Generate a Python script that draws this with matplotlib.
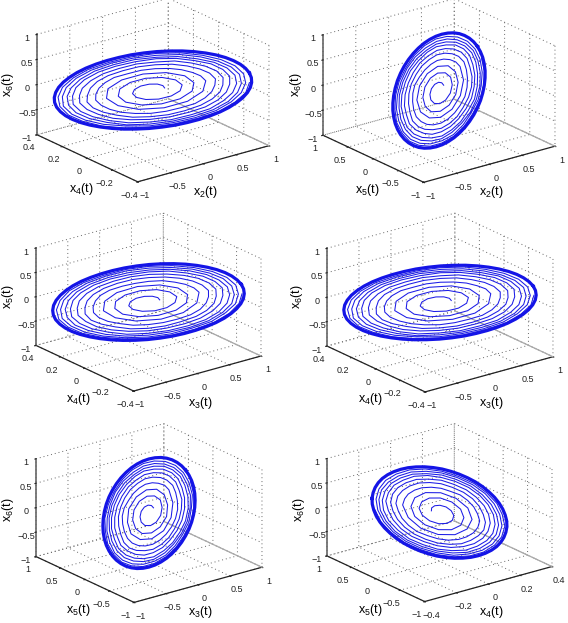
import numpy as np
import matplotlib
matplotlib.use('Agg')
import matplotlib.pyplot as plt

plt.rcParams['font.family'] = ['Liberation Sans', 'DejaVu Sans']
plt.rcParams['mathtext.default'] = 'regular'
plt.rcParams['grid.color'] = '#666666'
plt.rcParams['grid.linestyle'] = (0, (1, 3))
plt.rcParams['grid.linewidth'] = 0.7

# trayectoria: espiral vuelta por vuelta
x2 = [.108,.105,.068,0,-.081,-.152,-.189,-.176,-.108,0,.122,.222,
      .27,.24,.14,0,-.15,-.27,-.32,-.29,-.17,0,.18,.32,
      .38,.34,.20,0,-.21,-.37,-.43,-.37,-.22,0,.23,.41,
      .49,.47,.42,.34,.25,.13,0,-.13,-.26,-.36,-.44,-.50,-.53,-.51,-.46,-.38,-.27,-.14,0,.14,.28,.39,.48,.54,
      .58,.56,.50,.41,.29,.15,0,-.15,-.30,-.42,-.51,-.57,-.61,-.59,-.53,-.43,-.31,-.16,0,.16,.32,.45,.55,.61,
      .65,.63,.56,.46,.33,.17,0,-.17,-.33,-.47,-.58,-.64,-.68,-.65,-.58,-.48,-.34,-.18,0,.18,.35,.49,.60,.67,
      .71,.69,.62,.50,.36,.19,0,-.19,-.36,-.52,-.63,-.70,-.74,-.71,-.64,-.52,-.37,-.19,0,.19,.38,.53,.65,.73,
      .76,.73,.65,.53,.38,.20,0,-.20,-.39,-.55,-.67,-.75,-.78,-.76,-.68,-.55,-.40,-.21,0,.21,.40,.57,.69,.77,
      .80,.77,.69,.57,.41,.21,0,-.21,-.41,-.58,-.71,-.79,-.83,-.80,-.72,-.59,-.41,-.21,0,.21,.42,.59,.72,.81,
      .84,.81,.72,.59,.42,.22,0,-.22,-.43,-.60,-.74,-.83,-.86,-.83,-.75,-.61,-.43,-.22,0,.22,.44,.62,.76,.84]
x3 = [.107,.101,.06,-.008,-.088,-.154,-.187,-.169,-.096,.013,.132,.225,
      .27,.23,.13,-.02,-.17,-.28,-.32,-.28,-.15,.02,.20,.32,
      .37,.32,.18,-.02,-.23,-.37,-.43,-.36,-.20,.03,.25,.41,
      .48,.46,.40,.32,.22,.10,-.03,-.15,-.28,-.38,-.45,-.50,-.52,-.50,-.44,-.35,-.24,-.11,.03,.17,.30,.41,.49,.54,
      .57,.54,.48,.38,.26,.12,-.03,-.18,-.32,-.44,-.52,-.57,-.60,-.58,-.51,-.40,-.28,-.13,.03,.19,.34,.46,.56,.61,
      .64,.61,.54,.43,.29,.14,-.03,-.20,-.36,-.49,-.59,-.64,-.67,-.63,-.56,-.45,-.31,-.14,.03,.21,.37,.51,.61,.67,
      .70,.67,.59,.47,.32,.15,-.04,-.22,-.39,-.54,-.64,-.70,-.73,-.69,-.61,-.49,-.34,-.15,.04,.23,.41,.56,.67,.73,
      .75,.71,.63,.50,.34,.16,-.04,-.23,-.42,-.57,-.68,-.75,-.77,-.74,-.65,-.52,-.36,-.16,.04,.24,.43,.59,.71,.77,
      .79,.75,.66,.53,.36,.17,-.04,-.25,-.44,-.60,-.72,-.79,-.82,-.78,-.69,-.55,-.37,-.17,.04,.25,.45,.61,.74,.81,
      .83,.79,.69,.55,.38,.17,-.04,-.26,-.46,-.63,-.75,-.83,-.85,-.81,-.72,-.57,-.39,-.18,.04,.26,.47,.64,.77,.84]
x4 = [-.036,-.024,0,.029,.055,.068,.064,.039,0,-.045,-.082,-.10,
      -.091,-.054,0,.058,.103,.123,.109,.065,0,-.068,-.121,-.144,
      -.127,-.075,0,.079,.139,.165,.145,.084,0,-.088,-.155,-.182,
      -.164,-.133,-.095,-.049,0,.05,.096,.136,.173,.193,.20,.193,.179,.146,.103,.054,0,-.055,-.105,-.148,-.188,-.21,-.217,-.21,
      -.194,-.158,-.112,-.058,0,.059,.114,.161,.20,.223,.231,.223,.206,.168,.119,.062,0,-.063,-.121,-.17,-.212,-.237,-.245,-.237,
      -.218,-.178,-.126,-.066,0,.066,.128,.18,.224,.25,.259,.25,.227,.185,.131,.068,0,-.069,-.133,-.188,-.233,-.26,-.27,-.26,
      -.239,-.195,-.138,-.072,0,.073,.14,.198,.245,.274,.284,.274,.248,.203,.144,.075,0,-.076,-.145,-.205,-.255,-.284,-.294,-.284,
      -.255,-.207,-.147,-.076,0,.077,.149,.21,.261,.291,.301,.291,.264,.215,.152,.079,0,-.08,-.154,-.217,-.27,-.301,-.312,-.301,
      -.27,-.22,-.156,-.081,0,.082,.158,.222,.276,.308,.319,.308,.279,.227,.161,.084,0,-.084,-.161,-.227,-.282,-.314,-.326,-.314,
      -.282,-.23,-.163,-.085,0,.086,.165,.232,.288,.321,.333,.321,.291,.237,.168,.087,0,-.087,-.168,-.237,-.294,-.328,-.34,-.328]
x5 = [.048,.082,.097,.085,.044,-.018,-.085,-.137,-.156,-.132,-.066,.026,
      .121,.188,.208,.171,.084,-.032,-.145,-.225,-.247,-.202,-.098,.037,
      .17,.261,.286,.233,.113,-.043,-.194,-.292,-.318,-.259,-.125,.047,
      .22,.28,.33,.35,.36,.33,.28,.22,.14,.05,-.05,-.15,-.24,-.31,-.36,-.38,-.39,-.36,-.31,-.24,-.15,-.05,.06,.16,
      .26,.34,.39,.42,.42,.39,.34,.26,.16,.05,-.06,-.17,-.27,-.36,-.41,-.44,-.45,-.42,-.36,-.27,-.17,-.06,.06,.18,
      .29,.38,.44,.47,.47,.44,.38,.29,.18,.06,-.07,-.19,-.30,-.39,-.46,-.49,-.49,-.46,-.39,-.30,-.19,-.06,.07,.20,
      .32,.41,.48,.51,.52,.48,.41,.32,.20,.06,-.07,-.21,-.33,-.43,-.50,-.53,-.54,-.50,-.43,-.33,-.21,-.07,.08,.22,
      .34,.44,.51,.55,.55,.51,.44,.34,.21,.07,-.08,-.22,-.35,-.46,-.53,-.57,-.57,-.53,-.45,-.35,-.22,-.07,.08,.23,
      .36,.47,.54,.58,.58,.54,.47,.36,.22,.07,-.08,-.23,-.37,-.48,-.56,-.60,-.60,-.56,-.48,-.36,-.23,-.07,.08,.24,
      .38,.49,.57,.61,.61,.57,.49,.37,.23,.08,-.09,-.24,-.39,-.50,-.58,-.62,-.62,-.58,-.50,-.38,-.24,-.08,.09,.25]
x6 = [.045,.078,.094,.083,.044,-.015,-.079,-.13,-.15,-.128,-.066,.022,
      .113,.179,.20,.166,.084,-.027,-.136,-.214,-.237,-.196,-.098,.032,
      .159,.249,.275,.226,.113,-.036,-.181,-.277,-.306,-.251,-.125,.04,
      .20,.27,.31,.34,.34,.32,.28,.21,.14,.05,-.04,-.13,-.22,-.29,-.34,-.37,-.37,-.35,-.30,-.23,-.15,-.05,.05,.15,
      .24,.32,.37,.40,.41,.38,.33,.25,.16,.06,-.05,-.16,-.26,-.34,-.39,-.42,-.43,-.40,-.35,-.27,-.17,-.06,.05,.16,
      .27,.36,.42,.45,.46,.42,.37,.28,.18,.06,-.06,-.17,-.28,-.37,-.43,-.47,-.47,-.44,-.38,-.29,-.19,-.07,.06,.18,
      .30,.39,.46,.49,.50,.47,.40,.31,.20,.07,-.06,-.19,-.31,-.41,-.47,-.51,-.52,-.48,-.42,-.32,-.21,-.07,.06,.20,
      .32,.42,.49,.52,.53,.49,.43,.33,.21,.07,-.07,-.20,-.33,-.43,-.50,-.54,-.55,-.51,-.44,-.34,-.22,-.08,.07,.21,
      .34,.44,.51,.55,.56,.52,.45,.35,.22,.08,-.07,-.21,-.35,-.46,-.53,-.57,-.57,-.54,-.46,-.36,-.23,-.08,.07,.22,
      .35,.46,.54,.58,.59,.55,.47,.36,.23,.08,-.07,-.22,-.36,-.48,-.55,-.60,-.60,-.56,-.48,-.37,-.24,-.08,.07,.23]

# ciclo limite (la banda gruesa de afuera)
c2 = [.891,.883,.861,.823,.772,.707,.63,.542,.446,.341,.231,.116,0,-.116,-.231,-.341,-.446,-.542,-.63,-.707,-.772,-.823,-.861,-.883,
      -.891,-.883,-.861,-.823,-.772,-.707,-.63,-.542,-.446,-.341,-.231,-.116,0,.116,.231,.341,.446,.542,.63,.707,.772,.823,.861,.883,.891]
c3 = [.880,.866,.838,.796,.739,.670,.589,.499,.400,.294,.183,.069,-.046,-.160,-.272,-.380,-.480,-.572,-.655,-.726,-.785,-.831,-.862,-.878,
      -.880,-.866,-.838,-.796,-.739,-.670,-.589,-.499,-.400,-.294,-.183,-.069,.046,.160,.272,.380,.480,.572,.655,.726,.785,.831,.862,.878,.880]
c4 = [-.301,-.275,-.245,-.211,-.174,-.133,-.09,-.045,0,.045,.09,.133,.174,.211,.245,.275,.301,.321,.335,.344,.347,.344,.335,.321,
      .301,.275,.245,.211,.174,.133,.09,.045,0,-.045,-.09,-.133,-.174,-.211,-.245,-.275,-.301,-.321,-.335,-.344,-.347,-.344,-.335,-.321,-.301]
c5 = [.400,.463,.519,.566,.603,.629,.645,.650,.644,.627,.599,.560,.512,.456,.391,.320,.244,.163,.079,-.006,-.090,-.174,-.254,-.330,
      -.400,-.463,-.519,-.566,-.603,-.629,-.645,-.650,-.644,-.627,-.599,-.560,-.512,-.456,-.391,-.320,-.244,-.163,-.079,.006,.090,.174,.254,.330,.400]
c6 = [.374,.436,.490,.536,.573,.600,.616,.622,.618,.602,.577,.541,.497,.443,.383,.316,.243,.166,.086,.006,-.076,-.156,-.233,-.306,
      -.374,-.436,-.490,-.536,-.573,-.600,-.616,-.622,-.618,-.602,-.577,-.541,-.497,-.443,-.383,-.316,-.243,-.166,-.086,-.006,.076,.156,.233,.306,.374]

ticks_1 = [-1, -0.5, 0, 0.5, 1]
labels_1 = ['\u22121', '\u22120.5', '0', '0.5', '1']
ticks_04 = [-0.4, -0.2, 0, 0.2, 0.4]
labels_04 = ['\u22120.4', '\u22120.2', '0', '0.2', '0.4']

series = {2: (x2, c2), 3: (x3, c3), 4: (x4, c4), 5: (x5, c5), 6: (x6, c6)}

# panel: ejes (x, y, z), centro en pixeles, lado, posicion de las etiquetas
panels = [
    ((2, 4, 6), (149.6, 93.4), 250, (205, 192), (81, 189), (8, 85)),
    ((2, 5, 6), (435.6, 93.9), 250, (491, 192), (367, 190), (296, 85)),
    ((3, 4, 5), (145.2, 305.3), 242.5, (200, 403), (78, 399), (8, 297)),
    ((3, 4, 6), (436.7, 305.8), 243.5, (491, 403), (370, 399), (297, 297)),
    ((3, 5, 6), (145.7, 516.3), 243.5, (200, 612), (78, 610), (8, 510)),
    ((4, 5, 6), (436.2, 515.8), 242.5, (491, 612), (370, 610), (299, 510)),
]

W, H = 568, 623
fig = plt.figure(figsize=(W / 100, H / 100), dpi=100)


def sub(n):
    return 'x$_{%d}$(t)' % n


for (ix, iy, iz), (cx, cy), S, lx, ly, lz in panels:
    ax = fig.add_axes([(cx - S / 2) / W, 1 - (cy + S / 2) / H, S / W, S / H],
                      projection='3d', computed_zorder=False)
    ax.set_proj_type('ortho')
    ax.view_init(elev=21, azim=-127.5)
    ax.set_box_aspect((1, 1, 0.65))
    ax.patch.set_alpha(0)

    xt, xl = (ticks_04, labels_04) if ix == 4 else (ticks_1, labels_1)
    yt, yl = (ticks_04, labels_04) if iy == 4 else (ticks_1, labels_1)
    ax.set_xlim(xt[0], xt[-1])
    ax.set_ylim(yt[0], yt[-1])
    ax.set_zlim(-1, 1)
    ax.set_xticks(xt, xl)
    ax.set_yticks(yt, yl)
    ax.set_zticks(ticks_1, labels_1)
    ax.tick_params(labelsize=6.5, pad=-2, colors='#222222')
    ax.tick_params(axis='z', pad=-4)

    for axis in (ax.xaxis, ax.yaxis, ax.zaxis):
        axis.set_pane_color((1, 1, 1, 0))
        axis.pane.set_edgecolor((1, 1, 1, 0))
        axis.line.set_color('#222222')
        axis.line.set_linewidth(0.9)
        axis._axinfo['tick']['inward_factor'] = 0.1
        axis._axinfo['tick']['outward_factor'] = 0.0
    ax.zaxis.line.set_color('#666666')
    ax.zaxis.line.set_linewidth(1.2)

    # arista de atras del piso
    ax.plot([xt[-1], xt[-1]], [yt[0], yt[-1]], [-1, -1], color='#aaaaaa', lw=0.9, zorder=1)

    sx, cxs = series[ix]
    sy, cys = series[iy]
    sz, czs = series[iz]
    ax.plot(sx, sy, sz, color='#1c1ce6', lw=0.75, zorder=3)
    ax.plot(cxs, cys, czs, color='#1414e6', lw=2.3, zorder=4)

    fig.text(lx[0] / W, 1 - lx[1] / H, sub(ix), fontsize=9, ha='center', va='center')
    fig.text(ly[0] / W, 1 - ly[1] / H, sub(iy), fontsize=9, ha='center', va='center')
    fig.text(lz[0] / W, 1 - lz[1] / H, sub(iz), fontsize=9, ha='center', va='center', rotation=90)

fig.savefig('out.png', dpi=100)
